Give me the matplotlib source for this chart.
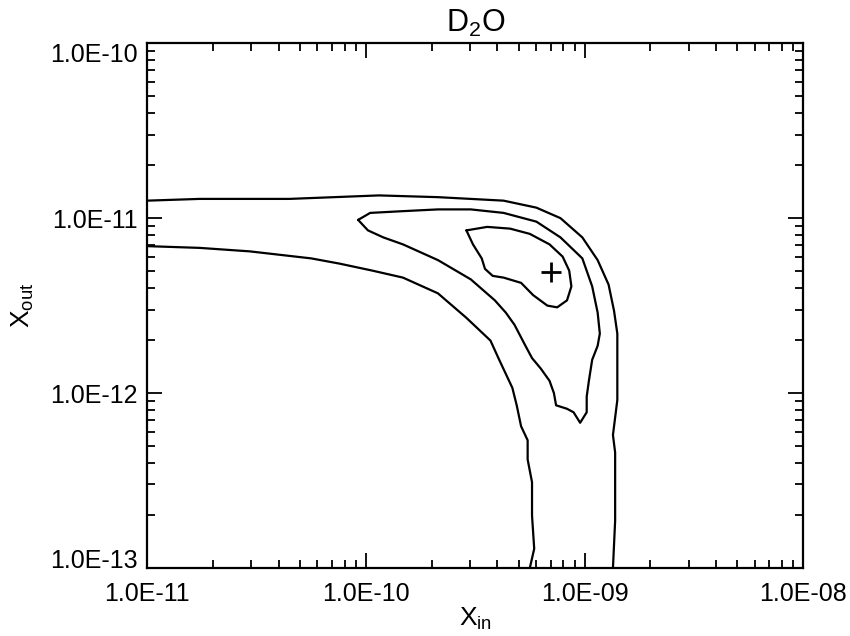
import numpy as np
import matplotlib
matplotlib.use("Agg")
import matplotlib.pyplot as plt
from matplotlib.ticker import LogLocator, NullFormatter

plt.rcParams['font.family'] = ['Liberation Sans', 'DejaVu Sans']
plt.rcParams['mathtext.default'] = 'regular'

# contour outlines (log10 of X_in, log10 of X_out)
# outermost level: two branches cut by the plot frame
outer_top_logx = [-11.00, -10.76, -10.35, -9.94, -9.67, -9.37, -9.22, -9.11, -9.01,
                  -8.94, -8.89, -8.865, -8.85, -8.85, -8.87, -8.86, -8.86, -8.87]
outer_top_logy = [-10.90, -10.89, -10.89, -10.87, -10.88, -10.90, -10.94, -11.00, -11.11,
                  -11.24, -11.38, -11.53, -11.66, -12.04, -12.24, -12.34, -12.73, -13.00]

outer_low_logx = [-11.00, -10.76, -10.53, -10.25, -10.12, -9.97, -9.83, -9.67, -9.54, -9.43,
                  -9.39, -9.33, -9.31, -9.29, -9.26, -9.26, -9.24, -9.24, -9.23, -9.25]
outer_low_logy = [-11.16, -11.17, -11.19, -11.23, -11.26, -11.30, -11.34, -11.43, -11.57, -11.70,
                  -11.81, -11.97, -12.07, -12.19, -12.27, -12.38, -12.51, -12.70, -12.89, -13.00]

# middle level (closed)
mid_logx = [-10.035, -9.98, -9.83, -9.67, -9.52, -9.37, -9.22, -9.11, -9.01, -8.965,
            -8.94, -8.93, -8.94, -8.965, -8.98, -8.99, -8.99, -9.02, -9.05, -9.08,
            -9.13, -9.14, -9.16, -9.20, -9.24, -9.27, -9.32, -9.36, -9.41, -9.52,
            -9.67, -9.83, -9.92, -9.99, -10.035]
mid_logy = [-11.01, -10.97, -10.96, -10.95, -10.95, -10.97, -11.02, -11.11, -11.23, -11.39,
            -11.54, -11.66, -11.73, -11.81, -11.93, -12.02, -12.11, -12.17, -12.11, -12.09,
            -12.07, -12.00, -11.93, -11.86, -11.80, -11.73, -11.61, -11.54, -11.47, -11.35,
            -11.24, -11.15, -11.11, -11.07, -11.01]

# innermost level (closed)
inner_logx = [-9.54, -9.445, -9.34, -9.25, -9.16, -9.10, -9.07, -9.06, -9.08, -9.125,
              -9.17, -9.235, -9.29, -9.37, -9.42, -9.455, -9.47, -9.51, -9.54]
inner_logy = [-11.07, -11.05, -11.06, -11.09, -11.15, -11.22, -11.30, -11.39, -11.47, -11.51,
              -11.50, -11.44, -11.37, -11.34, -11.33, -11.29, -11.23, -11.15, -11.07]

# best fit
best_x = 7.0e-10
best_y = 4.9e-12

xticks = [1e-11, 1e-10, 1e-9, 1e-8]
yticks = [1e-13, 1e-12, 1e-11, 1e-10]

fig = plt.figure(figsize=(8.5, 6.36), dpi=100)
ax = fig.add_axes([0.173, 0.107, 0.772, 0.825])

for lx, ly in [(outer_top_logx, outer_top_logy), (outer_low_logx, outer_low_logy),
               (mid_logx, mid_logy), (inner_logx, inner_logy)]:
    ax.plot(np.power(10.0, lx), np.power(10.0, ly), color='black', lw=1.6,
            solid_joinstyle='round', solid_capstyle='round')

ax.plot(best_x, best_y, '+', color='black', ms=15, mew=2)

ax.set_xscale('log')
ax.set_yscale('log')
ax.set_xlim(1e-11, 1e-8)
ax.set_ylim(1e-13, 1e-10)

ax.set_xticks(xticks, ['%.1E' % v for v in xticks])
ax.set_yticks(yticks, ['%.1E' % v for v in yticks])
ax.xaxis.set_minor_locator(LogLocator(base=10, subs=np.arange(2, 10)))
ax.yaxis.set_minor_locator(LogLocator(base=10, subs=np.arange(2, 10)))
ax.xaxis.set_minor_formatter(NullFormatter())
ax.yaxis.set_minor_formatter(NullFormatter())

ax.tick_params(which='both', direction='in', top=True, right=True, colors='black')
ax.tick_params(which='major', length=11, width=1.3, labelsize=18)
ax.tick_params(which='minor', length=6, width=1.3)
ax.tick_params(axis='x', which='major', pad=10)
ax.tick_params(axis='y', which='major', pad=7)

ylabels = ax.get_yticklabels()
ylabels[0].set_va('baseline')
ylabels[-1].set_va('top')

for sp in ax.spines.values():
    sp.set_linewidth(1.6)

ax.set_title('D$_2$O', fontsize=22, pad=8)
ax.set_xlabel('X$_{in}$', fontsize=19, labelpad=0)
ax.set_ylabel('X$_{out}$', fontsize=19, labelpad=10)

fig.savefig('out.png', dpi=100)
